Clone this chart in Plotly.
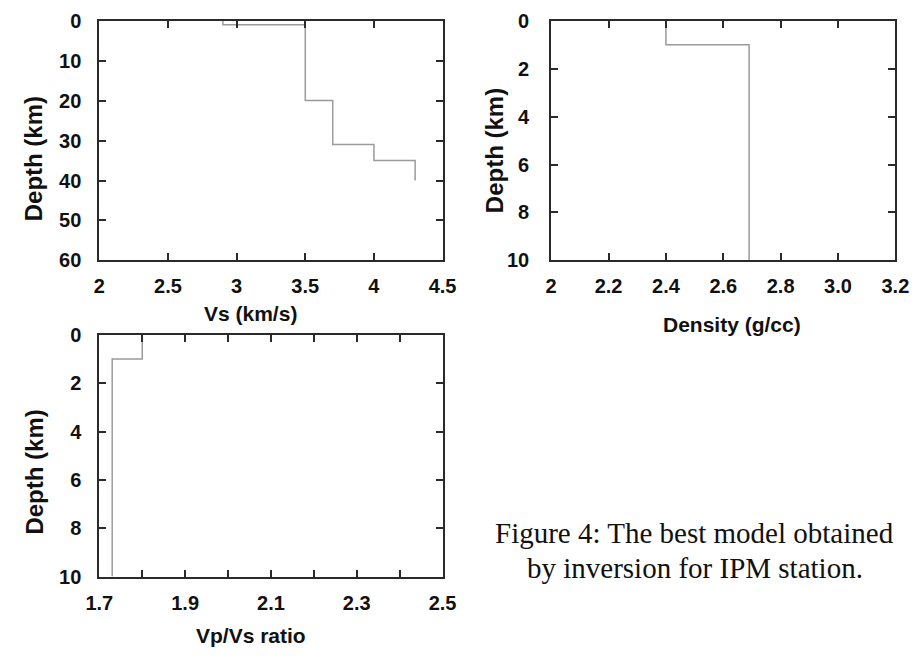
import plotly.graph_objects as go

# layered model: value of each layer and depth of its top (km)
vs_vals = [2.9, 3.5, 3.7, 4.0, 4.3]
vs_tops = [0, 1, 20, 31, 35]
vs_bottom = 40

rho_vals = [2.4, 2.69]
rho_tops = [0, 1]
rho_bottom = 10

vpvs_vals = [1.8, 1.73]
vpvs_tops = [0, 1]
vpvs_bottom = 10

vs_ticks = [2, 2.5, 3, 3.5, 4, 4.5]
vs_ticktext = ['2', '2.5', '3', '3.5', '4', '4.5']
rho_ticks = [2.0, 2.2, 2.4, 2.6, 2.8, 3.0, 3.2]
rho_ticktext = ['2', '2.2', '2.4', '2.6', '2.8', '3.0', '3.2']
vpvs_ticks = [1.7, 1.8, 1.9, 2.0, 2.1, 2.2, 2.3, 2.4, 2.5]
vpvs_ticktext = ['1.7', '', '1.9', '', '2.1', '', '2.3', '', '2.5']
depth_ticks_vs = [0, 10, 20, 30, 40, 50, 60]
depth_ticks_10 = [0, 2, 4, 6, 8, 10]

W, H = 922, 664
LINE = '#9a9a9a'
FRAME = '#2a2a2a'
SANS = 'Liberation Sans, Arial, sans-serif'


def step(vals, tops, bottom):
    '''puntos para dibujar el modelo por capas (con line_shape vh)'''
    return vals + [vals[-1]], tops + [bottom]


def px(x0, x1):
    return [x0 / W, x1 / W]


def py(top, bottom):
    return [1 - bottom / H, 1 - top / H]


fig = go.Figure()

for vals, tops, bottom, xa, ya in [(vs_vals, vs_tops, vs_bottom, 'x', 'y'),
                                   (rho_vals, rho_tops, rho_bottom, 'x2', 'y2'),
                                   (vpvs_vals, vpvs_tops, vpvs_bottom, 'x3', 'y3')]:
    xs, ys = step(vals, tops, bottom)
    fig.add_trace(go.Scatter(x=xs, y=ys, mode='lines', line_shape='vh',
                             line=dict(color=LINE, width=1.5),
                             xaxis=xa, yaxis=ya, showlegend=False))

common = dict(showline=True, linewidth=2, linecolor=FRAME, mirror='allticks',
              ticks='inside', ticklen=7, tickwidth=1.5, tickcolor=FRAME,
              showgrid=False, zeroline=False,
              tickfont=dict(family=SANS, size=20, color='#111', weight='bold'))

fig.update_layout(
    width=W, height=H,
    margin=dict(l=0, r=0, t=0, b=0),
    paper_bgcolor='white', plot_bgcolor='white',
    xaxis=dict(domain=px(88, 442), range=[2, 4.5], tickvals=vs_ticks,
               ticktext=vs_ticktext, anchor='y', ticklabelstandoff=7, **common),
    yaxis=dict(domain=py(10, 258), range=[60, 0], tickvals=depth_ticks_vs,
               anchor='x', ticklabelstandoff=12, **common),
    xaxis2=dict(domain=px(554, 909), range=[2, 3.2], tickvals=rho_ticks,
                ticktext=rho_ticktext, anchor='y2', ticklabelstandoff=7, **common),
    yaxis2=dict(domain=py(10, 258), range=[10, 0], tickvals=depth_ticks_10,
                anchor='x2', ticklabelstandoff=16, **common),
    xaxis3=dict(domain=px(88, 442), range=[1.7, 2.5], tickvals=vpvs_ticks,
                ticktext=vpvs_ticktext, anchor='y3', ticklabelstandoff=7, **common),
    yaxis3=dict(domain=py(335, 585), range=[10, 0], tickvals=depth_ticks_10,
                anchor='x3', ticklabelstandoff=12, **common),
)

# axis titles
titles = [
    ('Vs (km/s)', 244, 313, 0, 21),
    ('Density (g/cc)', 740, 324, 0, 21),
    ('Vp/Vs ratio', 244, 646, 0, 21),
    ('Depth (km)', 21, 153, -90, 24),
    ('Depth (km)', 495, 144, -90, 24),
    ('Depth (km)', 21, 477, -90, 24),
]
for text, x, y, ang, size in titles:
    fig.add_annotation(text=text, x=x / W, y=1 - y / H, xref='paper', yref='paper',
                       showarrow=False, textangle=ang, xanchor='center', yanchor='middle',
                       font=dict(family=SANS, size=size, color='#111', weight='bold'))

# caption
for text, y in [('Figure 4: The best model obtained', 540),
                ('by inversion for IPM station.', 576)]:
    fig.add_annotation(text=text, x=702 / W, y=1 - y / H, xref='paper', yref='paper',
                       showarrow=False, xanchor='center', yanchor='middle',
                       font=dict(family='Liberation Serif, Times New Roman, serif',
                                 size=29, color='#111'))

# quitar el margen por defecto del body para que la figura quede en (0, 0)
fig.write_html("out.html", config={'displayModeBar': False},
               post_script="document.body.style.margin = '0';")
